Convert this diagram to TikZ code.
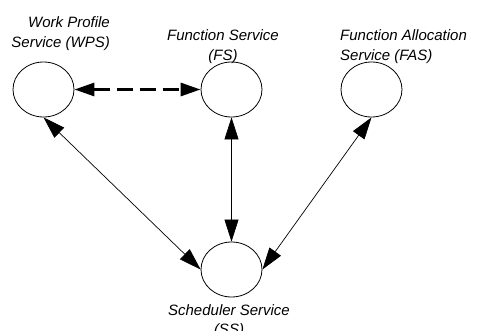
\documentclass[tikz,border=0pt]{standalone}
\usepackage{fontspec}
\setmainfont{Liberation Sans}
\usetikzlibrary{shapes.geometric,arrows.meta}
\begin{document}
\begin{tikzpicture}[x=1pt,y=-1pt,
  svc/.style={draw,ellipse,line width=0.8pt,minimum width=61pt,minimum height=55pt,inner sep=0pt},
  lbl/.style={font=\fontsize{15}{19.5}\selectfont\itshape,inner sep=0pt},
  link/.style={line width=0.7pt,{Triangle[length=22pt,width=14pt]}-{Triangle[length=22pt,width=14pt]}},
  dlink/.style={line width=3pt,dash pattern=on 16pt off 7pt,{Triangle[length=20pt,width=13pt]}-{Triangle[length=20pt,width=13pt]}}
]
\useasboundingbox (0,0) rectangle (479,331);
\node[svc] (wps) at (43.5,89.5) {};
\node[svc] (fs) at (231.5,89.5) {};
\node[svc] (fas) at (371.5,89.5) {};
\node[svc] (ss) at (231.5,269.5) {};
\node[lbl,align=right,anchor=base east] (wpsl) at (110,47.5) {Work Profile\\Service (WPS)};
\node[lbl,align=center,anchor=base] (fsl) at (223,60.5) {Function Service\\(FS)};
\node[lbl,align=left,anchor=base west] (fasl) at (340,60.5) {Function Allocation\\Service (FAS)};
\node[lbl,align=center,anchor=base] (ssl) at (229,334.5) {Scheduler Service\\(SS)};
\draw[dlink] (wps.east) -- (fs.west);
\draw[link] (wps.south) -- (ss.west);
\draw[link] (fs.south) -- (ss.north);
\draw[link] (fas.south) -- (ss.east);
\end{tikzpicture}
\end{document}
